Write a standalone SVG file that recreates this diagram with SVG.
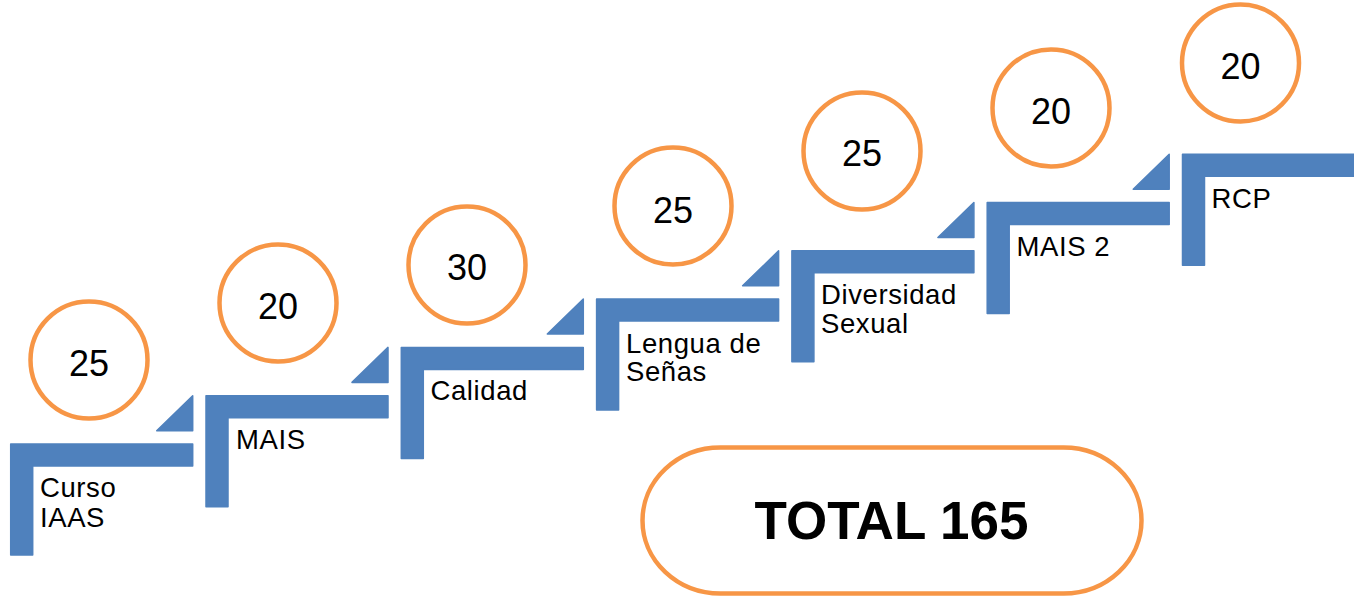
<svg xmlns="http://www.w3.org/2000/svg" xmlns:xlink="http://www.w3.org/1999/xlink" width="1354" height="598" viewBox="0 0 1354 598">
<style>
.bar{fill:#4F81BD;stroke:#4F81BD;stroke-width:1.5;stroke-linejoin:round}
.ring{fill:#FFFFFF;stroke:#F79646;stroke-width:4.5}
.num{font-family:"Liberation Sans",Arial,sans-serif;font-size:36px;fill:#000000;text-anchor:middle}
.lbl{font-family:"Liberation Sans",Arial,sans-serif;font-size:27.5px;letter-spacing:0.6px;fill:#000000}
.tot{font-family:"Liberation Sans",Arial,sans-serif;font-size:53px;font-weight:bold;fill:#000000;text-anchor:middle}
</style>
<defs>
<path id="step" d="M0,0 H182 V22 H22 V111 H0 Z"/>
<path id="tri" d="M-36,35 L0,0 V35 Z"/>
</defs>
<rect width="1354" height="598" fill="#FFFFFF"/>
<g id="connectors"></g>
<g id="step1">
<use href="#step" xlink:href="#step" class="bar" transform="translate(10.7,444)"/>
<circle class="ring" cx="89" cy="360" r="58.5"/>
<text class="num" x="89" y="376">25</text>
<text class="lbl" x="40" y="497">Curso</text>
<text class="lbl" x="40" y="526.5">IAAS</text>
</g>
<g id="step2">
<use href="#tri" xlink:href="#tri" class="bar" transform="translate(192.7,395.7)"/>
<use href="#step" xlink:href="#step" class="bar" transform="translate(206,395.7)"/>
<circle class="ring" cx="278" cy="303" r="58.5"/>
<text class="num" x="278" y="318.5">20</text>
<text class="lbl" x="236" y="449">MAIS</text>
</g>
<g id="step3">
<use href="#tri" xlink:href="#tri" class="bar" transform="translate(388,347.4)"/>
<use href="#step" xlink:href="#step" class="bar" transform="translate(401.3,347.4)"/>
<circle class="ring" cx="467" cy="265" r="58.5"/>
<text class="num" x="467" y="280">30</text>
<text class="lbl" x="430.5" y="400">Calidad</text>
</g>
<g id="step4">
<use href="#tri" xlink:href="#tri" class="bar" transform="translate(583.3,299.1)"/>
<use href="#step" xlink:href="#step" class="bar" transform="translate(596.6,299.1)"/>
<circle class="ring" cx="673" cy="206" r="58.5"/>
<text class="num" x="673" y="223">25</text>
<text class="lbl" x="626" y="352.5">Lengua de</text>
<text class="lbl" x="626" y="380.5">Señas</text>
</g>
<g id="step5">
<use href="#tri" xlink:href="#tri" class="bar" transform="translate(778.6,250.8)"/>
<use href="#step" xlink:href="#step" class="bar" transform="translate(791.9,250.8)"/>
<circle class="ring" cx="862" cy="151" r="58.5"/>
<text class="num" x="862" y="165.5">25</text>
<text class="lbl" x="821" y="303.5">Diversidad</text>
<text class="lbl" x="821" y="332.5">Sexual</text>
</g>
<g id="step6">
<use href="#tri" xlink:href="#tri" class="bar" transform="translate(973.9,202.5)"/>
<use href="#step" xlink:href="#step" class="bar" transform="translate(987.2,202.5)"/>
<circle class="ring" cx="1051" cy="108" r="58.5"/>
<text class="num" x="1051" y="124">20</text>
<text class="lbl" x="1016.5" y="256">MAIS 2</text>
</g>
<g id="step7">
<use href="#tri" xlink:href="#tri" class="bar" transform="translate(1169.2,154.2)"/>
<path class="bar" d="M1182.5,154.2 H1360 V176.2 H1204.5 V265.2 H1182.5 Z"/>
<circle class="ring" cx="1240.5" cy="63" r="58.5"/>
<text class="num" x="1240.5" y="78.5">20</text>
<text class="lbl" x="1211.5" y="207.5">RCP</text>
</g>
<g id="total">
<rect class="ring" x="642.5" y="447.5" width="499" height="146" rx="78" ry="73"/>
<text class="tot" x="891.5" y="539">TOTAL 165</text>
</g>
</svg>
